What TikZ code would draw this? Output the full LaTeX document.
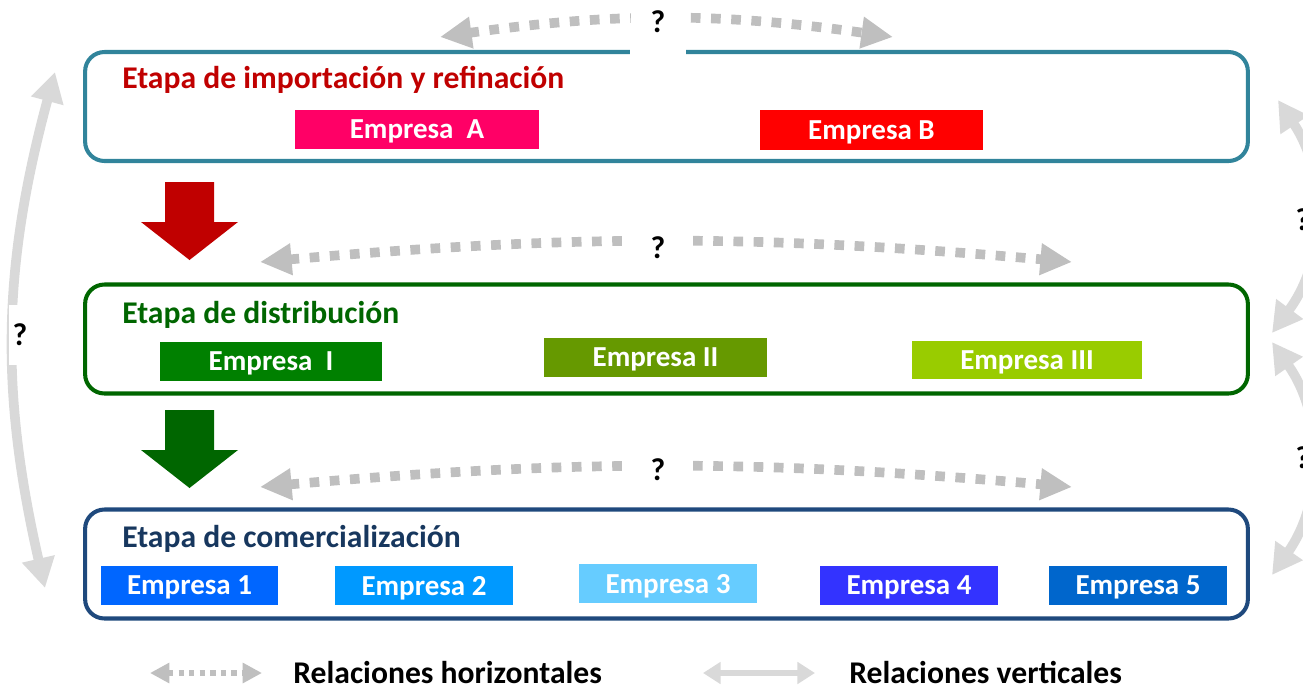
\documentclass[tikz,border=0pt]{standalone}
\usepackage{fontspec}
\setmainfont{Carlito}
\usepackage{xcolor}
\usetikzlibrary{arrows.meta}

\definecolor{azulT}{HTML}{31849B}
\definecolor{verdeB}{HTML}{006600}
\definecolor{marino}{HTML}{1F497D}
\definecolor{marinoT}{HTML}{17375E}
\definecolor{rojoT}{HTML}{C00000}
\definecolor{grisH}{HTML}{BFBFBF}
\definecolor{grisV}{HTML}{D9D9D9}
\definecolor{rosa}{HTML}{FF0066}
\definecolor{rojoB}{HTML}{FF0000}
\definecolor{verdeI}{HTML}{008000}
\definecolor{verdeII}{HTML}{669900}
\definecolor{verdeIII}{HTML}{99CC00}
\definecolor{e1}{HTML}{0066FF}
\definecolor{e2}{HTML}{0099FF}
\definecolor{e3}{HTML}{66CCFF}
\definecolor{e4}{HTML}{3333FF}
\definecolor{e5}{HTML}{0066CC}

\begin{document}
\begin{tikzpicture}[x=0.02cm,y=-0.02cm,
    etapa/.style={draw=#1,line width=2.3pt,rounded corners=11pt,minimum width=23.26cm,minimum height=2.18cm},
    empresa/.style={fill=#1,text=white,font=\bfseries\fontsize{16.5}{18}\selectfont,inner sep=0pt,text depth=0pt,minimum height=0.78cm},
    titulo/.style={anchor=base west,inner sep=0pt,text=#1,font=\bfseries\fontsize{18}{20}\selectfont},
    horiz/.style={draw=grisH,line width=5.5pt,dash pattern=on 5.5pt off 6pt,{Triangle[length=18pt,width=17pt]}-{Triangle[length=18pt,width=17pt]}},
    vert/.style={draw=grisV,line width=5.5pt,{Triangle[length=17pt,width=18pt]}-{Triangle[length=17pt,width=18pt]}},
    pregunta/.style={fill=white,font=\bfseries\fontsize{18}{20}\selectfont,inner sep=2pt}
]
\useasboundingbox (0,0) rectangle (1303,687);

% etapas
\node[etapa=azulT] (imp) at (666.5,106.5) {};
\node[etapa=verdeB] (dis) at (666.5,339) {};
\node[etapa=marino] (com) at (666.5,564) {};
\fill[white] (630,44) rectangle (686,57);

\node[titulo=rojoT] (timp) at (122,88) {Etapa de importación y refinación};
\node[titulo=verdeB] (tdis) at (122,323) {Etapa de distribución};
\node[titulo=marinoT] (tcom) at (122,547) {Etapa de comercialización};

% empresas
\node[empresa=rosa,minimum width=4.88cm] (ea) at (417,129) {Empresa\ \ A};
\node[empresa=rojoB,minimum width=4.46cm,minimum height=0.8cm] (eb) at (871.5,130) {Empresa B};
\node[empresa=verdeI,minimum width=4.44cm] (ei) at (271,361.5) {Empresa\ \ I};
\node[empresa=verdeII,minimum width=4.46cm] (eii) at (655.5,357.5) {Empresa II};
\node[empresa=verdeIII,minimum width=4.6cm,minimum height=0.76cm] (eiii) at (1027,360) {Empresa III};
\foreach \n/\x/\y/\c in {1/189.5/585.5/e1,2/424/585.5/e2,3/668/583.5/e3,4/909/585.5/e4,5/1138/585/e5}{
    \node[empresa=\c,minimum width=3.55cm] (e\n) at (\x,\y) {Empresa \n};
}

% flechas de bloque
\foreach \y/\c in {182/rojoT,410/verdeB}{
    \fill[\c] (165,\y) -- (214,\y) -- (214,\y+40) -- (238,\y+40) -- (189.5,\y+78) -- (141,\y+40) -- (165,\y+40) -- cycle;
}

% relaciones horizontales
\coordinate (h1a) at (440,37); \coordinate (h1b) at (893,37);
\coordinate (h2a) at (260,262); \coordinate (h2b) at (1072,262);
\coordinate (h3a) at (260,487); \coordinate (h3b) at (1072,487);
\draw[horiz] (h1a) to[bend left=8] (h1b);
\draw[horiz] (h2a) to[bend left=5] (h2b);
\draw[horiz] (h3a) to[bend left=5] (h3b);
\node[pregunta,minimum width=1.1cm] (q1) at (658,22) {?};
\node[pregunta,minimum width=1.1cm] (q2) at (658,248) {?};
\node[pregunta,minimum width=1.1cm] (q3) at (658,470) {?};

% relaciones verticales
\coordinate (v1a) at (55,72); \coordinate (v1b) at (45,588);
\coordinate (v2a) at (1278,100); \coordinate (v2b) at (1272,333);
\coordinate (v3a) at (1272,342); \coordinate (v3b) at (1272,575);
\draw[vert] (v1a) to[bend right=14] (v1b);
\draw[vert] (v2a) to[bend left=35] (v2b);
\draw[vert] (v3a) to[bend left=35] (v3b);
\node[pregunta,minimum height=1.2cm] (q4) at (20,335) {?};
\node[pregunta,minimum height=1.2cm] (q5) at (1303,220) {?};
\node[pregunta,minimum height=1.2cm] (q6) at (1303,458) {?};

% leyenda
\coordinate (lh1) at (150,673); \coordinate (lh2) at (262,673);
\coordinate (lv1) at (703,673); \coordinate (lv2) at (815,673);
\draw[horiz,line width=3pt,dash pattern=on 3pt off 3pt,{Triangle[length=11pt,width=11pt]}-{Triangle[length=11pt,width=11pt]}] (lh1) -- (lh2);
\draw[vert,line width=3.5pt,{Triangle[length=10pt,width=12pt]}-{Triangle[length=10pt,width=12pt]}] (lv1) -- (lv2);
\node[titulo=black] (lht) at (293,683) {Relaciones horizontales};
\node[titulo=black] (lvt) at (849,683) {Relaciones verticales};
\end{tikzpicture}
\end{document}
